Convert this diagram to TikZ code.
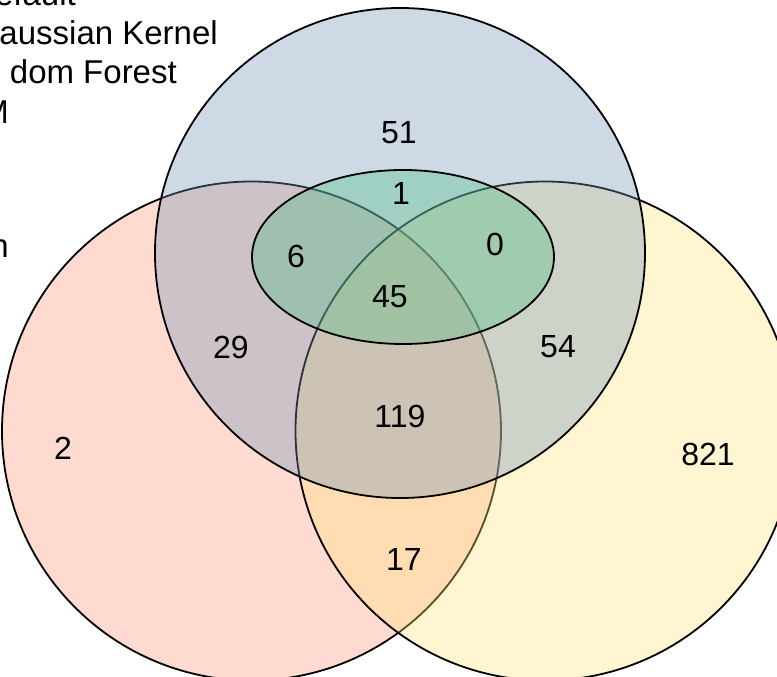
\documentclass[tikz,border=0pt]{standalone}
\usepackage{fontspec}
\setmainfont{Liberation Sans}
\definecolor{vred}{RGB}{255,149,121}
\definecolor{vyellow}{RGB}{255,226,121}
\definecolor{vblue}{RGB}{112,149,184}
\definecolor{vgreen}{RGB}{76,189,130}

\begin{document}
\begin{tikzpicture}[x=1pt,y=-1pt,
  setarea/.style={fill opacity=0.35,draw opacity=1,line width=1.8pt},
  count/.style={font=\fontsize{32}{38}\selectfont},
  legend/.style={font=\fontsize{33}{39}\selectfont,anchor=base east,inner sep=0pt}]
\useasboundingbox (0,0) rectangle (777,677);
% the four sets
\draw[setarea,fill=vred] (251.5,431) circle[radius=249.5pt];
\draw[setarea,fill=vyellow] (545,431) circle[radius=249.5pt];
\draw[setarea,fill=vblue] (400,253) circle[radius=245pt];
\draw[setarea,fill=vgreen] (403,257) ellipse[x radius=151pt,y radius=87pt];
% counts
\node[count] (n51) at (399,133) {51};
\node[count] (n1) at (401,193) {1};
\node[count] (n6) at (296,256) {6};
\node[count] (n0) at (495,244) {0};
\node[count] (n45) at (390,297) {45};
\node[count] (n29) at (231,347) {29};
\node[count] (n54) at (558,347) {54};
\node[count] (n119) at (400,416) {119};
\node[count] (n2) at (63,448) {2};
\node[count] (n821) at (708,454) {821};
\node[count] (n17) at (404,559) {17};
% legend (cut at the left edge)
\node[legend] (lgdefault) at (76,6) {efault};
\node[legend] (lgkernel) at (218,45) {aussian Kernel};
\node[legend] (lgforest) at (177,84) {dom Forest};
\node[legend] (lgsvm) at (9,123) {M};
\node[legend] (lgother) at (9,257) {n};
\end{tikzpicture}
\end{document}
